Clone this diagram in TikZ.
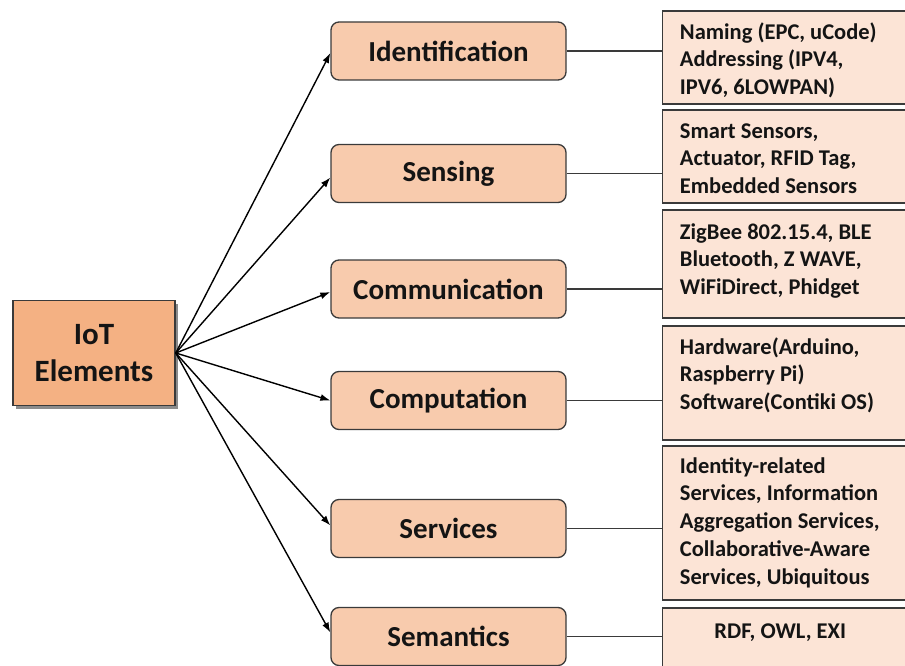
\documentclass[tikz,border=0pt]{standalone}
\usepackage{fontspec}
\setmainfont{Carlito}
\usetikzlibrary{arrows.meta,shadows}

\definecolor{rootfill}{HTML}{F4B183}
\definecolor{midfill}{HTML}{F8CBAD}
\definecolor{leaffill}{HTML}{FCE4D6}
\definecolor{edgegray}{HTML}{3A3A3A}
\definecolor{ink}{HTML}{141414}

% left-aligned stack of lines whose baseline is that of the first line
\newcommand{\leaflines}[1]{\vtop{\halign{##\hfil\cr#1\crcr}}}

\begin{document}
\begin{tikzpicture}[x=1pt,y=-1pt,
  root/.style={draw=edgegray, line width=1.5pt, fill=rootfill,
    minimum width=162pt, minimum height=105pt, align=center,
    font=\bfseries\fontsize{31}{37}\selectfont, text=ink,
    drop shadow={shadow xshift=3pt, shadow yshift=-3pt, fill=black, opacity=0.45}},
  midbox/.style={draw=edgegray, line width=1.3pt, fill=midfill,
    rounded corners=8pt, minimum width=235pt, minimum height=58pt,
    font=\bfseries\fontsize{29}{34}\selectfont, text=ink},
  leafbox/.style={draw=edgegray, line width=1.5pt, fill=leaffill,
    minimum width=243.5pt, inner sep=0pt},
  leaftext/.style={inner sep=0pt, text=ink,
    font=\bfseries\fontsize{22.5}{27.7}\selectfont},
  fan/.style={draw=black, line width=1.4pt, -{Latex[length=10pt,width=7pt]}},
  link/.style={draw=edgegray, line width=1.3pt}
]
\useasboundingbox (0,0) rectangle (905,666);

% root element
\node[root] (iot) at (94,353) {IoT\\Elements};

% second level: element categories
\node[midbox] (ident) at (448.5,51)    {Identification};
\node[midbox] (sens)  at (448.5,173.5) {Sensing};
\node[midbox] (comm)  at (448.5,289)   {Communication};
\node[midbox] (comp)  at (448.5,400.5) {Computation};
\node[midbox] (serv)  at (448.5,528.5) {Services};
\node[midbox] (sem)   at (448.5,636.5) {Semantics};

% third level: examples per category
\node[leafbox, minimum height=93pt]  (r1) at (784.25,57.5) {};
\node[leafbox, minimum height=93pt]  (r2) at (784.25,156.5) {};
\node[leafbox, minimum height=108pt] (r3) at (784.25,264) {};
\node[leafbox, minimum height=114pt] (r4) at (784.25,383) {};
\node[leafbox, minimum height=154pt] (r5) at (784.25,523) {};
\node[leafbox, minimum height=72pt]  (r6) at (784.25,644) {};

\node[leaftext, anchor=base west] (t1) at ([xshift=18pt,yshift=-29pt]r1.north west)
  {\leaflines{Naming (EPC, uCode)\cr Addressing (IPV4,\cr IPV6, 6LOWPAN)}};
\node[leaftext, anchor=base west] (t2) at ([xshift=18pt,yshift=-29pt]r2.north west)
  {\leaflines{Smart Sensors,\cr Actuator, RFID Tag,\cr Embedded Sensors}};
\node[leaftext, anchor=base west] (t3) at ([xshift=18pt,yshift=-30pt]r3.north west)
  {\leaflines{ZigBee 802.15.4, BLE\cr Bluetooth, Z WAVE,\cr WiFiDirect, Phidget}};
\node[leaftext, anchor=base west] (t4) at ([xshift=18pt,yshift=-29pt]r4.north west)
  {\leaflines{Hardware(Arduino,\cr Raspberry Pi)\cr Software(Contiki OS)}};
\node[leaftext, anchor=base west] (t5) at ([xshift=18pt,yshift=-28pt]r5.north west)
  {\leaflines{Identity-related\cr Services, Information\cr Aggregation Services,\cr Collaborative-Aware\cr Services, Ubiquitous}};
\node[leaftext, anchor=base] (t6) at ([xshift=-4pt,yshift=-31pt]r6.north)
  {RDF, OWL, EXI};

% arrows from the root to each category
\draw[fan] (iot.east) -- ([yshift=-2pt]ident.west);
\draw[fan] (iot.east) -- ([yshift=-4pt]sens.west);
\draw[fan] (iot.east) -- ([yshift=-3pt]comm.west);
\draw[fan] (iot.east) -- (comp.west);
\draw[fan] (iot.east) -- ([yshift=3pt]serv.west);
\draw[fan] (iot.east) -- ([yshift=4pt]sem.west);

% plain links from each category to its examples
\draw[link] (ident.east) -- (ident.east -| r1.west);
\draw[link] (sens.east)  -- (sens.east -| r2.west);
\draw[link] (comm.east)  -- (comm.east -| r3.west);
\draw[link] (comp.east)  -- (comp.east -| r4.west);
\draw[link] (serv.east)  -- (serv.east -| r5.west);
\draw[link] (sem.east)   -- (sem.east -| r6.west);
\end{tikzpicture}
\end{document}
